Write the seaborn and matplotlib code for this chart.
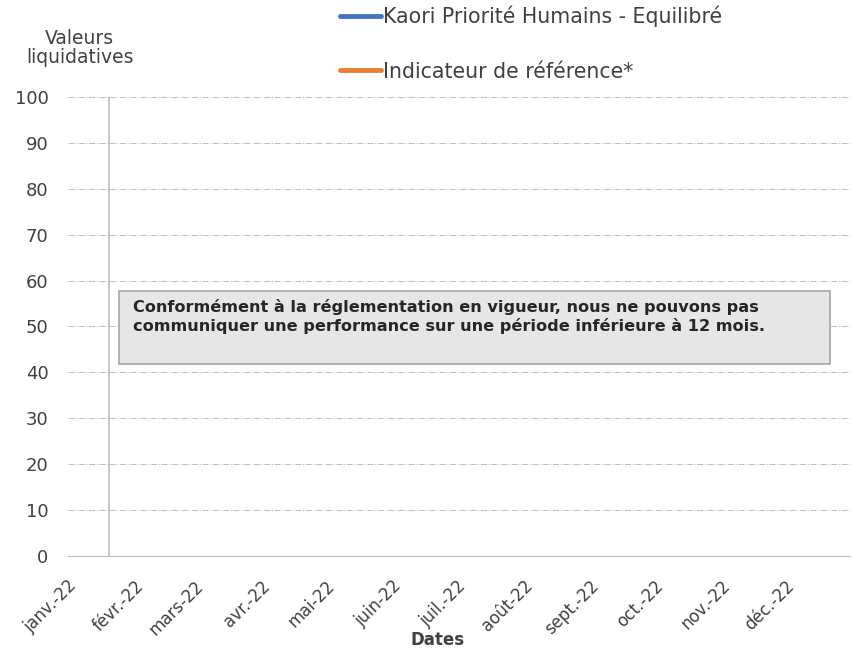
import pandas as pd
import numpy as np
import matplotlib
matplotlib.use("Agg")
import matplotlib.pyplot as plt
from matplotlib.patches import Rectangle
import seaborn as sns

# data: no performance shown (< 12 months), series are empty
month_starts = pd.date_range("2022-01-01", "2022-12-01", freq="MS")
month_labels = ["janv.-22", "févr.-22", "mars-22", "avr.-22", "mai-22", "juin-22",
                "juil.-22", "août-22", "sept.-22", "oct.-22", "nov.-22", "déc.-22"]
fund_values = [np.nan] * 12
bench_values = [np.nan] * 12
series_names = ["Kaori Priorité Humains - Equilibré", "Indicateur de référence*"]
series_colors = ["#4472C4", "#ED7D31"]
launch_date = pd.Timestamp("2022-01-20")
y_ticks = [0, 10, 20, 30, 40, 50, 60, 70, 80, 90, 100]
notice = ("Conformément à la réglementation en vigueur, nous ne pouvons pas\n"
          "communiquer une performance sur une période inférieure à 12 mois.")

sns.set_style("white")
plt.rcParams['font.family'] = ['DejaVu Sans']
text_col = "#404040"

fig = plt.figure(figsize=(8.59, 6.5), dpi=100)
ax = fig.add_axes([0.079, 0.1446, 0.9105, 0.7062])

df = pd.DataFrame({"date": list(month_starts) * 2,
                   "value": fund_values + bench_values,
                   "serie": [series_names[0]] * 12 + [series_names[1]] * 12})
for name, col in zip(series_names, series_colors):
    sub = df[df["serie"] == name]
    ax.plot(sub["date"], sub["value"], color=col, lw=3.5, label=name,
            solid_capstyle="round")

ax.set_xlim(pd.Timestamp("2022-01-01"), pd.Timestamp("2022-12-31"))
ax.set_ylim(0, 100)
ax.set_yticks(y_ticks)
ax.set_xticks(month_starts)
ax.set_xticklabels(month_labels, rotation=45, ha="right", rotation_mode="anchor",
                   fontsize=12, color=text_col)
ax.tick_params(axis="y", length=0, labelsize=13, labelcolor=text_col, pad=14)
ax.tick_params(axis="x", length=5, color="#BFBFBF", width=1, direction="out", pad=10)
ax.grid(axis="y", color="#BFBFBF", linestyle="-.", linewidth=0.7)
ax.grid(axis="x", visible=False)
for s in ["top", "right", "left"]:
    ax.spines[s].set_visible(False)
ax.spines["bottom"].set_color("#BFBFBF")
ax.axvline(launch_date, color="#BFBFBF", lw=1.2)

ax.set_xlabel("Dates", fontsize=12, fontweight="semibold", color=text_col)
ax.xaxis.set_label_coords(0.473, -0.163)
fig.text(0.093, 0.926, "Valeurs\nliquidatives", ha="center", va="center",
         fontsize=13.5, color=text_col, linespacing=1.05)

# notice box
fig.patches.append(Rectangle((0.1385, 0.44), 0.8277, 0.1123, transform=fig.transFigure,
                             facecolor="#E6E6E6", edgecolor="#A6A6A6", lw=1.2, zorder=3))
fig.text(0.155, 0.513, notice, ha="left", va="center", fontsize=11.6,
         fontweight="semibold", color="#262626", linespacing=1.2, zorder=4)

leg = fig.legend(loc="upper left", bbox_to_anchor=(0.3958, 0.992), frameon=False,
                 fontsize=14.8, handlelength=2.0, handletextpad=0.1, labelspacing=1.7,
                 borderaxespad=0, borderpad=0, labelcolor=text_col)

fig.savefig("out.png", dpi=100)
